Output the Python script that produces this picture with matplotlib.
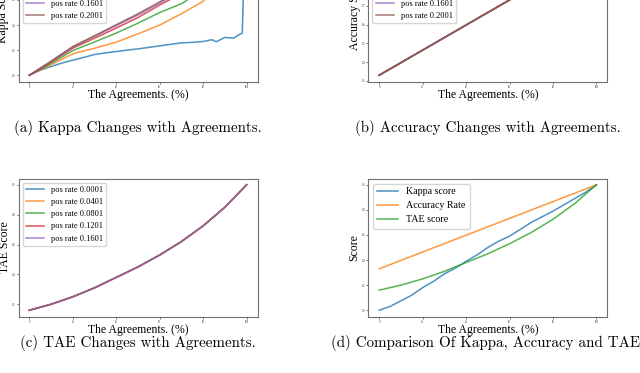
import matplotlib.pyplot as plt

plt.rcParams['font.family'] = ['Liberation Serif', 'DejaVu Serif']

# agreement levels (%) on the x axis
agree = [0, 10, 20, 30, 40, 50, 60, 70, 80, 90, 100]
agree_5 = [0, 5, 10, 15, 20, 25, 30, 35, 40, 45, 50, 55, 60, 65, 70, 75, 80, 85, 90, 95, 100]
agree_low = [0, 5, 10, 15, 20, 25, 30, 35, 40, 45, 50, 55, 60, 65, 70, 75, 80,
             84, 86, 90, 94, 97, 98, 99, 100]

pos_rates = ['0.0001', '0.0401', '0.0801', '0.1201', '0.1601', '0.2001']

# (a) kappa per positive rate
kappa_0001 = [0, 0.04, 0.07, 0.097, 0.12, 0.142, 0.165, 0.178, 0.189, 0.2, 0.21,
              0.222, 0.234, 0.246, 0.258, 0.262, 0.269, 0.283, 0.267, 0.301,
              0.296, 0.328, 0.335, 0.98, 1.0]
kappa_0401 = [0, 0.085, 0.171, 0.215, 0.264, 0.33, 0.40, 0.49, 0.59, 0.76, 1.0]
kappa_0801 = [0, 0.095, 0.197, 0.265, 0.336, 0.415, 0.50, 0.57, 0.68, 0.82, 1.0]
kappa_1201 = [0, 0.105, 0.216, 0.295, 0.376, 0.46, 0.56, 0.65, 0.75, 0.87, 1.0]
kappa_1601 = [0, 0.11, 0.224, 0.31, 0.395, 0.48, 0.575, 0.67, 0.78, 0.89, 1.0]
kappa_2001 = [0, 0.112, 0.229, 0.315, 0.403, 0.49, 0.585, 0.68, 0.79, 0.895, 1.0]

# (b) accuracy, same for every positive rate
accuracy = [0.33, 0.397, 0.464, 0.531, 0.598, 0.665, 0.732, 0.799, 0.866, 0.933, 1.0]

# (c) TAE score, same for every positive rate
tae = [0.16, 0.20, 0.25, 0.31, 0.38, 0.45, 0.53, 0.62, 0.725, 0.85, 1.0]

# (d) kappa used for the comparison
kappa_cmp = [0.0, 0.03, 0.075, 0.12, 0.18, 0.23, 0.29, 0.335, 0.39, 0.44, 0.5,
             0.55, 0.59, 0.645, 0.70, 0.745, 0.79, 0.84, 0.89, 0.94, 1.0]

colors = ['#1f77b4', '#ff7f0e', '#2ca02c', '#d62728', '#9467bd', '#8c564b']
LW, AL = 1.1, 0.8

fig = plt.figure(figsize=(6.4, 3.73), dpi=100)
W, H = 640.0, 373.0


def make_axes(left, top, width=239, height=138):
    ax = fig.add_axes([left / W, (H - top - height) / H, width / W, height / H])
    for s in ax.spines.values():
        s.set_color('#707070')
        s.set_linewidth(0.8)
    ax.tick_params(length=1.5, width=0.5, pad=0.8, labelsize=2, colors='#333333')
    ax.set_xlabel('The Agreements. (%)', fontsize=8.5, labelpad=0.5)
    return ax


ax_a = make_axes(18.5, -56.5)
ax_b = make_axes(368.3, -56.5)
ax_c = make_axes(18.5, 178.5)
ax_d = make_axes(368.3, 178.5)

kappas = [kappa_0001, kappa_0401, kappa_0801, kappa_1201, kappa_1601, kappa_2001]
for i, rate in enumerate(pos_rates):
    xs = agree_low if i == 0 else agree
    ax_a.plot(xs, kappas[i], color=colors[i], lw=LW, alpha=AL, label='pos rate ' + rate)
    ax_b.plot(agree, accuracy, color=colors[i], lw=LW, alpha=AL, label='pos rate ' + rate)
    if i < 5:
        ax_c.plot(agree, tae, color=colors[i], lw=LW, alpha=AL, label='pos rate ' + rate)

ax_d.plot(agree_5, kappa_cmp, color=colors[0], lw=LW, alpha=AL, label='Kappa score')
ax_d.plot(agree, accuracy, color=colors[1], lw=LW, alpha=AL, label='Accuracy Rate')
ax_d.plot(agree, tae, color=colors[2], lw=LW, alpha=AL, label='TAE score')

ax_a.set_ylabel('Kappa Score', fontsize=8.5)
ax_b.set_ylabel('Accuracy Score', fontsize=8.5)
ax_c.set_ylabel('TAE Score', fontsize=8.5)
ax_d.set_ylabel('Score', fontsize=8.5)
ax_a.yaxis.set_label_coords(-0.04, 0.5)
for ax in [ax_b, ax_c, ax_d]:
    ax.yaxis.set_label_coords(-0.032, 0.5)

for ax in [ax_a, ax_b, ax_c]:
    ax.legend(loc='upper left', fontsize=6, handlelength=2.2)
ax_d.legend(loc='upper left', fontsize=7.2, handlelength=2.1)

caps = ['(a) Kappa Changes with Agreements.',
        '(b) Accuracy Changes with Agreements.',
        '(c) TAE Changes with Agreements.',
        '(d) Comparison Of Kappa, Accuracy and TAE.']
cap_pos = [(137.5, 128.5), (487.5, 128.5), (137.5, 343), (487.5, 343)]
for t, (cx, cy) in zip(caps, cap_pos):
    fig.text(cx / W, 1 - cy / H, t, ha='center', va='center', fontsize=10.8,
             family=['cmr10', 'DejaVu Serif'])

fig.savefig('out.png', dpi=100)
